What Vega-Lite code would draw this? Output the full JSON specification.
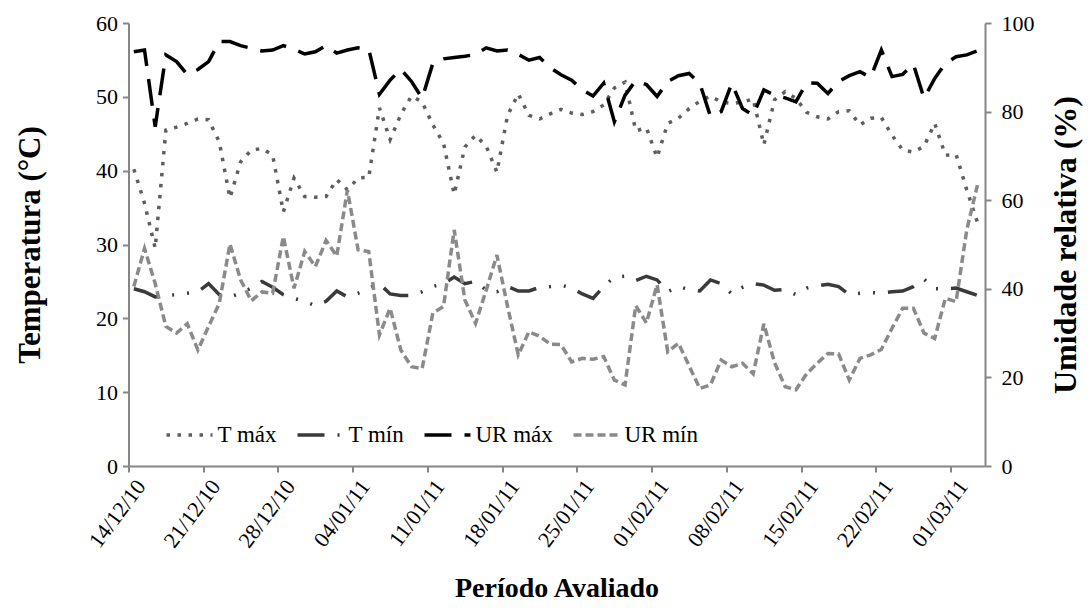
{
  "$schema": "https://vega.github.io/schema/vega-lite/v6.json",
  "width": 856.5,
  "height": 443,
  "autosize": {"type": "none"},
  "padding": {"left": 128.5, "top": 23, "right": 105, "bottom": 146},
  "background": "white",
  "config": {
    "font": "Liberation Serif",
    "view": {"stroke": null},
    "axis": {
      "labelFont": "Liberation Serif",
      "titleFont": "Liberation Serif",
      "labelFontSize": 22,
      "labelColor": "black",
      "titleColor": "black",
      "titleFontSize": 28,
      "titleFontWeight": "bold",
      "domainColor": "#868686",
      "domainWidth": 2,
      "tickColor": "#868686",
      "tickWidth": 2,
      "tickSize": 6,
      "grid": false
    }
  },
  "data": {
    "values": [
      {"data": "2010-12-14", "T máx": 40.2, "T mín": 24.0, "UR máx": 93.5, "UR mín": 40.5},
      {"data": "2010-12-15", "T máx": 35.6, "T mín": 23.6, "UR máx": 93.9, "UR mín": 49.1},
      {"data": "2010-12-16", "T máx": 29.5, "T mín": 22.9, "UR máx": 76.6, "UR mín": 41.2},
      {"data": "2010-12-17", "T máx": 45.5, "T mín": 23.1, "UR máx": 92.8, "UR mín": 31.5},
      {"data": "2010-12-18", "T máx": 45.9, "T mín": 23.2, "UR máx": 91.3, "UR mín": 30.0},
      {"data": "2010-12-19", "T máx": 46.4, "T mín": 23.4, "UR máx": 88.4, "UR mín": 32.1},
      {"data": "2010-12-20", "T máx": 47.0, "T mín": 23.6, "UR máx": 89.5, "UR mín": 26.2},
      {"data": "2010-12-21", "T máx": 46.9, "T mín": 24.7, "UR máx": 91.3, "UR mín": 31.5},
      {"data": "2010-12-22", "T máx": 43.9, "T mín": 23.2, "UR máx": 95.8, "UR mín": 36.7},
      {"data": "2010-12-23", "T máx": 36.3, "T mín": 22.9, "UR máx": 95.8, "UR mín": 50.1},
      {"data": "2010-12-24", "T máx": 41.2, "T mín": 23.4, "UR máx": 94.9, "UR mín": 42.0},
      {"data": "2010-12-25", "T máx": 42.8, "T mín": 24.1, "UR máx": 94.3, "UR mín": 37.3},
      {"data": "2010-12-26", "T máx": 43.0, "T mín": 25.0, "UR máx": 93.7, "UR mín": 39.3},
      {"data": "2010-12-27", "T máx": 42.1, "T mín": 24.2, "UR máx": 93.9, "UR mín": 39.0},
      {"data": "2010-12-28", "T máx": 34.4, "T mín": 23.2, "UR máx": 94.9, "UR mín": 51.8},
      {"data": "2010-12-29", "T máx": 39.0, "T mín": 22.7, "UR máx": 94.1, "UR mín": 40.1},
      {"data": "2010-12-30", "T máx": 36.5, "T mín": 22.3, "UR máx": 93.0, "UR mín": 48.4},
      {"data": "2010-12-31", "T máx": 36.4, "T mín": 21.7, "UR máx": 93.5, "UR mín": 45.0},
      {"data": "2011-01-01", "T máx": 36.5, "T mín": 22.3, "UR máx": 94.9, "UR mín": 50.9},
      {"data": "2011-01-02", "T máx": 38.8, "T mín": 23.7, "UR máx": 93.2, "UR mín": 47.4},
      {"data": "2011-01-03", "T máx": 37.4, "T mín": 22.9, "UR máx": 93.9, "UR mín": 62.3},
      {"data": "2011-01-04", "T máx": 39.0, "T mín": 23.4, "UR máx": 94.4, "UR mín": 48.8},
      {"data": "2011-01-05", "T máx": 39.1, "T mín": 24.1, "UR máx": 94.1, "UR mín": 48.4},
      {"data": "2011-01-06", "T máx": 48.5, "T mín": 24.7, "UR máx": 83.9, "UR mín": 29.6},
      {"data": "2011-01-07", "T máx": 44.2, "T mín": 23.3, "UR máx": 87.1, "UR mín": 35.6},
      {"data": "2011-01-08", "T máx": 47.6, "T mín": 23.1, "UR máx": 89.6, "UR mín": 26.2},
      {"data": "2011-01-09", "T máx": 50.1, "T mín": 23.1, "UR máx": 86.8, "UR mín": 22.4},
      {"data": "2011-01-10", "T máx": 49.3, "T mín": 23.6, "UR máx": 83.0, "UR mín": 22.0},
      {"data": "2011-01-11", "T máx": 46.2, "T mín": 24.3, "UR máx": 90.9, "UR mín": 34.5},
      {"data": "2011-01-12", "T máx": 43.7, "T mín": 24.7, "UR máx": 91.9, "UR mín": 36.0},
      {"data": "2011-01-13", "T máx": 36.8, "T mín": 25.6, "UR máx": 92.2, "UR mín": 53.3},
      {"data": "2011-01-14", "T máx": 43.2, "T mín": 24.7, "UR máx": 92.5, "UR mín": 37.5},
      {"data": "2011-01-15", "T máx": 44.8, "T mín": 25.0, "UR máx": 92.9, "UR mín": 32.2},
      {"data": "2011-01-16", "T máx": 43.3, "T mín": 23.8, "UR máx": 94.4, "UR mín": 39.7},
      {"data": "2011-01-17", "T máx": 39.8, "T mín": 23.6, "UR máx": 93.7, "UR mín": 47.6},
      {"data": "2011-01-18", "T máx": 47.5, "T mín": 24.3, "UR máx": 93.9, "UR mín": 36.0},
      {"data": "2011-01-19", "T máx": 50.4, "T mín": 23.7, "UR máx": 92.9, "UR mín": 25.1},
      {"data": "2011-01-20", "T máx": 47.5, "T mín": 23.7, "UR máx": 91.6, "UR mín": 30.3},
      {"data": "2011-01-21", "T máx": 47.0, "T mín": 24.2, "UR máx": 92.2, "UR mín": 29.3},
      {"data": "2011-01-22", "T máx": 47.7, "T mín": 24.3, "UR máx": 89.9, "UR mín": 27.5},
      {"data": "2011-01-23", "T máx": 48.3, "T mín": 24.5, "UR máx": 88.3, "UR mín": 27.4},
      {"data": "2011-01-24", "T máx": 47.8, "T mín": 24.1, "UR máx": 87.1, "UR mín": 23.5},
      {"data": "2011-01-25", "T máx": 47.6, "T mín": 23.3, "UR máx": 84.9, "UR mín": 24.3},
      {"data": "2011-01-26", "T máx": 48.0, "T mín": 22.7, "UR máx": 83.5, "UR mín": 24.1},
      {"data": "2011-01-27", "T máx": 48.9, "T mín": 24.3, "UR máx": 86.4, "UR mín": 24.7},
      {"data": "2011-01-28", "T máx": 51.2, "T mín": 25.6, "UR máx": 77.7, "UR mín": 19.4},
      {"data": "2011-01-29", "T máx": 52.0, "T mín": 25.7, "UR máx": 83.7, "UR mín": 18.3},
      {"data": "2011-01-30", "T máx": 45.4, "T mín": 25.1, "UR máx": 87.0, "UR mín": 36.2},
      {"data": "2011-01-31", "T máx": 45.8, "T mín": 25.7, "UR máx": 86.1, "UR mín": 32.3},
      {"data": "2011-02-01", "T máx": 41.8, "T mín": 25.2, "UR máx": 83.4, "UR mín": 40.9},
      {"data": "2011-02-02", "T máx": 46.4, "T mín": 23.6, "UR máx": 86.8, "UR mín": 25.8},
      {"data": "2011-02-03", "T máx": 47.1, "T mín": 24.3, "UR máx": 88.1, "UR mín": 27.7},
      {"data": "2011-02-04", "T máx": 48.4, "T mín": 23.9, "UR máx": 88.6, "UR mín": 22.6},
      {"data": "2011-02-05", "T máx": 49.4, "T mín": 23.7, "UR máx": 86.4, "UR mín": 17.5},
      {"data": "2011-02-06", "T máx": 50.1, "T mín": 25.2, "UR máx": 78.9, "UR mín": 18.3},
      {"data": "2011-02-07", "T máx": 49.3, "T mín": 24.7, "UR máx": 80.0, "UR mín": 23.9},
      {"data": "2011-02-08", "T máx": 49.1, "T mín": 23.3, "UR máx": 86.4, "UR mín": 22.4},
      {"data": "2011-02-09", "T máx": 49.3, "T mín": 24.2, "UR máx": 80.7, "UR mín": 23.2},
      {"data": "2011-02-10", "T máx": 49.7, "T mín": 24.7, "UR máx": 79.2, "UR mín": 20.8},
      {"data": "2011-02-11", "T máx": 43.5, "T mín": 24.5, "UR máx": 84.9, "UR mín": 32.1},
      {"data": "2011-02-12", "T máx": 49.6, "T mín": 23.8, "UR máx": 83.7, "UR mín": 23.3},
      {"data": "2011-02-13", "T máx": 50.7, "T mín": 23.9, "UR máx": 83.1, "UR mín": 17.9},
      {"data": "2011-02-14", "T máx": 49.8, "T mín": 23.2, "UR máx": 82.2, "UR mín": 17.2},
      {"data": "2011-02-15", "T máx": 47.9, "T mín": 24.1, "UR máx": 86.5, "UR mín": 20.8},
      {"data": "2011-02-16", "T máx": 47.3, "T mín": 24.4, "UR máx": 86.4, "UR mín": 23.2},
      {"data": "2011-02-17", "T máx": 47.0, "T mín": 24.6, "UR máx": 84.1, "UR mín": 25.4},
      {"data": "2011-02-18", "T máx": 48.0, "T mín": 24.3, "UR máx": 86.8, "UR mín": 25.3},
      {"data": "2011-02-19", "T máx": 48.1, "T mín": 23.2, "UR máx": 88.1, "UR mín": 19.4},
      {"data": "2011-02-20", "T máx": 46.2, "T mín": 23.4, "UR máx": 89.0, "UR mín": 24.3},
      {"data": "2011-02-21", "T máx": 47.1, "T mín": 23.5, "UR máx": 87.7, "UR mín": 25.1},
      {"data": "2011-02-22", "T máx": 47.2, "T mín": 23.4, "UR máx": 93.9, "UR mín": 26.3},
      {"data": "2011-02-23", "T máx": 44.8, "T mín": 23.6, "UR máx": 87.9, "UR mín": 31.1},
      {"data": "2011-02-24", "T máx": 42.8, "T mín": 23.7, "UR máx": 88.4, "UR mín": 35.6},
      {"data": "2011-02-25", "T máx": 42.5, "T mín": 24.3, "UR máx": 90.7, "UR mín": 35.6},
      {"data": "2011-02-26", "T máx": 43.3, "T mín": 25.3, "UR máx": 83.0, "UR mín": 30.0},
      {"data": "2011-02-27", "T máx": 46.4, "T mín": 24.0, "UR máx": 87.5, "UR mín": 28.8},
      {"data": "2011-02-28", "T máx": 42.1, "T mín": 24.0, "UR máx": 90.9, "UR mín": 37.9},
      {"data": "2011-03-01", "T máx": 42.2, "T mín": 24.1, "UR máx": 92.4, "UR mín": 37.1},
      {"data": "2011-03-02", "T máx": 37.4, "T mín": 23.6, "UR máx": 92.8, "UR mín": 53.3},
      {"data": "2011-03-03", "T máx": 33.0, "T mín": 23.1, "UR máx": 93.7, "UR mín": 63.4}
    ]
  },
  "encoding": {
    "x": {
      "field": "data",
      "type": "temporal",
      "timeUnit": "utcyearmonthdate",
      "bandPosition": 0.5,
      "scale": {
        "type": "utc",
        "domain": [
          {"year": 2010, "month": 12, "date": 14, "utc": true},
          {"year": 2011, "month": 3, "date": 4, "hours": 5, "utc": true}
        ]
      },
      "axis": {
        "title": "Período Avaliado",
        "format": "%d/%m/%y",
        "labelFont": "Liberation Serif",
        "labelFontSize": 22,
        "titleFont": "Liberation Serif",
        "titleFontSize": 28,
        "titleFontWeight": "bold",
        "labelAngle": -53,
        "labelAlign": "right",
        "labelBaseline": "top",
        "labelPadding": 4,
        "labelOffset": 4,
        "labelOverlap": false,
        "labelBound": false,
        "titleX": 428,
        "titleY": 122,
        "titleBaseline": "middle",
        "titleAlign": "center",
        "values": [
          {"year": 2010, "month": 12, "date": 14, "utc": true},
          {"year": 2010, "month": 12, "date": 21, "utc": true},
          {"year": 2010, "month": 12, "date": 28, "utc": true},
          {"year": 2011, "month": 1, "date": 4, "utc": true},
          {"year": 2011, "month": 1, "date": 11, "utc": true},
          {"year": 2011, "month": 1, "date": 18, "utc": true},
          {"year": 2011, "month": 1, "date": 25, "utc": true},
          {"year": 2011, "month": 2, "date": 1, "utc": true},
          {"year": 2011, "month": 2, "date": 8, "utc": true},
          {"year": 2011, "month": 2, "date": 15, "utc": true},
          {"year": 2011, "month": 2, "date": 22, "utc": true},
          {"year": 2011, "month": 3, "date": 1, "utc": true}
        ]
      }
    },
    "color": {
      "field": "serie",
      "type": "nominal",
      "scale": {
        "domain": ["T máx", "T mín", "UR máx", "UR mín"],
        "range": ["#5e5e5e", "#3a3a3a", "#000000", "#8a8a8a"]
      },
      "legend": {
        "title": null,
        "orient": "none",
        "legendX": 36,
        "legendY": 387,
        "direction": "horizontal",
        "symbolType": "stroke",
        "symbolSize": 2116,
        "symbolStrokeWidth": 3.5,
        "labelFont": "Liberation Serif",
        "labelFontSize": 23,
        "labelColor": "black",
        "labelOffset": 3,
        "columnPadding": 13,
        "padding": 0
      }
    },
    "strokeDash": {
      "field": "serie",
      "type": "nominal",
      "scale": {
        "domain": ["T máx", "T mín", "UR máx", "UR mín"],
        "range": [[3.5, 7.5], [27, 13, 2, 13, 2, 13], [27, 13], [8, 4]]
      },
      "legend": {
        "title": null,
        "orient": "none",
        "legendX": 36,
        "legendY": 387,
        "direction": "horizontal",
        "symbolType": "stroke",
        "symbolSize": 2116,
        "symbolStrokeWidth": 3.5,
        "labelFont": "Liberation Serif",
        "labelFontSize": 23,
        "labelColor": "black",
        "labelOffset": 3,
        "columnPadding": 13,
        "padding": 0
      }
    }
  },
  "layer": [
    {
      "transform": [{"fold": ["T máx", "T mín"], "as": ["serie", "valor"]}],
      "mark": {"type": "line", "strokeWidth": 3.5},
      "encoding": {
        "y": {
          "field": "valor",
          "type": "quantitative",
          "scale": {"domain": [0, 60], "nice": false},
          "axis": {
            "title": "Temperatura (°C)",
            "titleFontSize": 31,
            "values": [0, 10, 20, 30, 40, 50, 60],
            "labelPadding": 5,
            "titleAngle": -90,
            "titleX": -98,
            "titleY": 221.5,
            "titleBaseline": "middle",
            "titleAlign": "center"
          }
        }
      }
    },
    {
      "transform": [{"fold": ["UR máx", "UR mín"], "as": ["serie", "valor"]}],
      "mark": {"type": "line", "strokeWidth": 3.5},
      "encoding": {
        "y": {
          "field": "valor",
          "type": "quantitative",
          "scale": {"domain": [0, 100], "nice": false},
          "axis": {
            "orient": "right",
            "title": "Umidade relativa  (%)",
            "titleFontSize": 32,
            "values": [0, 20, 40, 60, 80, 100],
            "labelPadding": 10,
            "titleAngle": -90,
            "titleX": 80,
            "titleY": 221.5,
            "titleBaseline": "middle",
            "titleAlign": "center"
          }
        }
      }
    }
  ],
  "resolve": {"scale": {"y": "independent"}}
}
